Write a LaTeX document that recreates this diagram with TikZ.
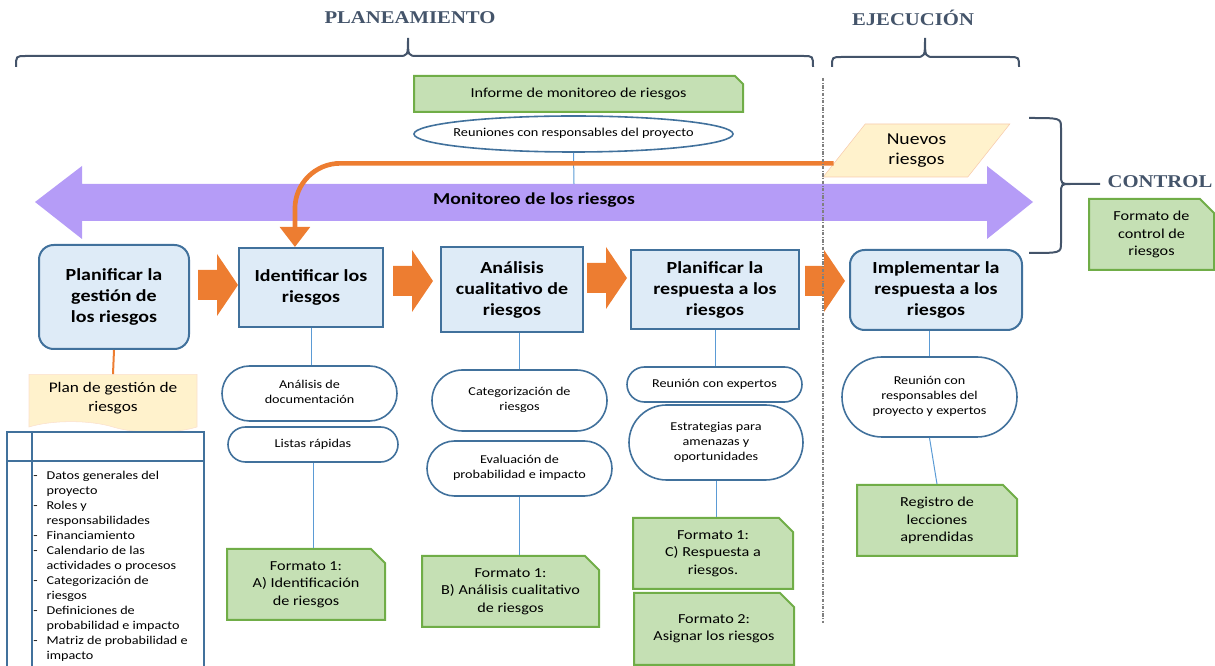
\documentclass[tikz,border=0pt]{standalone}
\usepackage{fontspec}
\setmainfont{Carlito}[FakeStretch=1.18]
\newfontfamily\serifbold{Liberation Serif}[FakeStretch=1.15]
\usetikzlibrary{positioning}
\usetikzlibrary{shapes.misc,shapes.geometric,shapes.symbols}
\usetikzlibrary{arrows.meta,calc}

\definecolor{azulborde}{HTML}{41719C}
\definecolor{azulfondo}{HTML}{DEEBF7}
\definecolor{verdeborde}{HTML}{70AD47}
\definecolor{verdefondo}{HTML}{C5E0B4}
\definecolor{naranja}{HTML}{ED7D31}
\definecolor{lila}{HTML}{B59CF7}
\definecolor{crema}{HTML}{FFF2CC}
\definecolor{durazno}{HTML}{F8CBAD}
\definecolor{pizarra}{HTML}{44546A}
\definecolor{celeste}{HTML}{5B9BD5}

% text that does not widen its shape
\newcommand{\sinancho}[1]{\makebox[0pt]{\begin{tabular}{@{}c@{}}#1\end{tabular}}}

\tikzset{
  sz/.style 2 args={minimum width=#1*0.75pt, minimum height=#2*0.75pt},
  proceso/.style={draw=azulborde, fill=azulfondo, line width=1.5pt, inner sep=0pt,
    align=center, font=\fontsize{12.7}{15.75}\selectfont\bfseries},
  formato/.style={chamfered rectangle, chamfered rectangle corners=north east,
    chamfered rectangle xsep=5.5pt, chamfered rectangle ysep=5pt,
    draw=verdeborde, fill=verdefondo, line width=1.5pt, inner sep=0pt,
    align=center, font=\fontsize{10.3}{13}\selectfont},
  tecnica/.style={rounded rectangle, draw=azulborde, fill=white, line width=1.2pt,
    inner sep=0pt, font=\fontsize{9}{11.25}\selectfont},
  enlace/.style={draw=celeste, line width=0.75pt},
  titulo/.style={text=pizarra, font=\serifbold\fontsize{13.5}{15}\selectfont\bfseries},
  llave/.style={draw=pizarra, line width=1.5pt},
}

\begin{document}
\begin{tikzpicture}[x=0.75pt,y=-0.75pt]
\useasboundingbox (0,0) rectangle (1215,666);

% titles
\node[titulo] (planeamiento) at (410,18) {PLANEAMIENTO};
\node[titulo] (ejecucion) at (913,18) {EJECUCIÓN};
\node[titulo] (control) at (1160,182) {CONTROL};

% braces
\draw[llave] (16,67) .. controls (16,56) .. (26,56) -- (398,56) .. controls (408,56) .. (408,38)
  .. controls (408,56) .. (418,56) -- (803,56) .. controls (813,56) .. (813,67);
\draw[llave] (832,67) .. controls (832,57) .. (842,57) -- (915,57) .. controls (925,57) .. (925,38)
  .. controls (925,57) .. (935,57) -- (1009,57) .. controls (1019,57) .. (1019,67);
\draw[llave] (1029,118) .. controls (1061,118) .. (1061,128) -- (1061,174)
  .. controls (1061,184) .. (1071,184) -- (1100,184)
  (1071,184) .. controls (1061,184) .. (1061,194) -- (1061,243)
  .. controls (1061,253) .. (1029,253);

% monitoring arrow
\fill[lila] (35,202) -- (82,166) -- (82,184) -- (987,184) -- (987,166) -- (1033,202)
  -- (987,239) -- (987,221) -- (82,221) -- (82,239) -- cycle;
\node[font=\fontsize{12.5}{14}\selectfont\bfseries] (monitoreo) at (534,200) {Monitoreo de los riesgos};
\coordinate (borde) at (574,184);

% monitoring inputs
\node[formato, chamfered rectangle xsep=3pt, chamfered rectangle ysep=3pt, sz={329}{36},
  font=\fontsize{10.3}{12}\selectfont] (informe) at (578.5,94) {Informe de monitoreo de riesgos};
\node[ellipse, draw=azulborde, line width=1.2pt, fill=white, inner sep=0pt, sz={319}{36},
  font=\fontsize{9.1}{11}\selectfont] (reuniones) at (573.5,134) {\sinancho{Reuniones con responsables del proyecto}};
\draw[enlace] (reuniones.south) -- (borde);

% new risks
\node[trapezium, trapezium left angle=54, trapezium right angle=126, trapezium stretches=true,
  draw=durazno, fill=crema, inner sep=0pt, sz={187}{53}, align=center,
  font=\fontsize{12.5}{15}\selectfont] (nuevos) at (916.5,150.5) {Nuevos\\riesgos};

% processes
\node[proceso, rounded corners=11pt, sz={150}{104}] (p1) at (114,297) {Planificar la\\gestión de\\los riesgos};
\node[proceso, sz={144}{79}] (p2) at (311,287.5) {Identificar los\\riesgos};
\node[proceso, sz={142}{85}] (p3) at (512,289.5) {Análisis\\cualitativo de\\riesgos};
\node[proceso, sz={168}{79}] (p4) at (715,289.5) {Planificar la\\respuesta a los\\riesgos};
\node[proceso, rounded corners=11pt, sz={172}{80}] (p5) at (936,290) {Implementar la\\respuesta a los\\riesgos};

% block arrows between processes
\foreach \x/\y in {198/285, 393/281, 587/278, 805/281}
  \fill[naranja] (\x,\y-15) -- (\x+19,\y-15) -- (\x+19,\y-31) -- (\x+40,\y)
    -- (\x+19,\y+31) -- (\x+19,\y+15) -- (\x,\y+15) -- cycle;

% feedback of new risks
\draw[naranja, line width=3.5pt, rounded corners=34pt, -{Triangle[width=22pt,length=15pt]}]
  ($(nuevos.bottom left corner)!0.26!(nuevos.top left corner)$) -| ($(p2.north west)!0.39!(p2.north east)$);

% plan
\node[tape, tape bend top=none, tape bend bottom=out and in, tape bend height=8pt,
  draw=durazno!60, fill=crema, inner sep=0pt, sz={168}{58}, align=center,
  font=\fontsize{11}{14}\selectfont] (plan) at (113,398) {Plan de gestión de\\riesgos};
\draw[naranja, line width=1.5pt] (p1.south) -- (plan.north);

% techniques
\node[tecnica, sz={175}{55}] (t21) at (309.5,393.5) {\sinancho{Análisis de\\documentación}};
\node[tecnica, sz={170}{35}] (t22) at (313,444.5) {\sinancho{Listas rápidas}};
\node[tecnica, sz={175}{61}] (t31) at (519.5,400.5) {\sinancho{Categorización de\\riesgos}};
\node[tecnica, sz={185}{55}] (t32) at (519.5,468.5) {\sinancho{Evaluación de\\probabilidad e impacto}};
\node[tecnica, sz={175}{35}] (t41) at (714.5,384.5) {\sinancho{Reunión con expertos}};
\node[tecnica, sz={174}{75}] (t42) at (716,442.5) {\sinancho{Estrategias para\\amenazas y\\oportunidades}};
\node[tecnica, sz={175}{80}] (t51) at (929.5,397) {\sinancho{Reunión con\\responsables del\\proyecto y expertos}};

% formats
\node[formato, sz={158}{71}] (fa) at (306,584.5) {Formato 1:\\A) Identificación\\de riesgos};
\node[formato, sz={177}{71}] (fb) at (510.5,591.5) {Formato 1:\\B) Análisis cualitativo\\de riesgos};
\node[formato, sz={160}{71}] (fc) at (713,553.5) {Formato 1:\\C) Respuesta a\\riesgos.};
\node[formato, sz={160}{72}] (f2) at (714,629) {Formato 2:\\Asignar los riesgos};
\node[formato, sz={160}{71}] (reg) at (937,520.5) {Registro de\\lecciones\\aprendidas};
\node[formato, sz={125}{71}] (ctrl) at (1151.5,234.5) {Formato de\\control de\\riesgos};

% links
\draw[enlace] (p2.south) -- (p2.south |- t21.north);
\draw[enlace] (t22.south) -- (t22.south |- fa.north);
\draw[enlace] (t31.north |- p3.south) -- (t31.north);
\draw[enlace] (t32.south) -- (t32.south |- fb.north);
\draw[enlace] (p4.south) -- (p4.south |- t41.north);
\draw[enlace] (t42.south) -- (t42.south |- fc.north);
\draw[enlace] (t51.north |- p5.south) -- (t51.north);
\draw[enlace] (t51.south) -- (reg.north);

% contents of the plan
\draw[azulborde, line width=1.2pt] (7,670) -- (7,432) -- (204,432) -- (204,670);
\draw[azulborde, line width=1.2pt] (32,432) -- (32,670);
\draw[azulborde, line width=1.2pt] (7,461) -- (204,461);
\node[anchor=north west, inner sep=0pt, font=\fontsize{9}{11.25}\selectfont] (lista) at (33,469)
  {\begin{tabular}{@{}p{10pt}@{}l@{}}
   - & Datos generales del\\ & proyecto\\
   - & Roles y\\ & responsabilidades\\
   - & Financiamiento\\
   - & Calendario de las\\ & actividades o procesos\\
   - & Categorización de\\ & riesgos\\
   - & Definiciones de\\ & probabilidad e impacto\\
   - & Matriz de probabilidad e\\ & impacto
   \end{tabular}};

% planning / execution limit
\draw[gray, line width=0.8pt, dash pattern=on 2.5pt off 1.2pt on 0.6pt off 1.2pt] (823,78) -- (823,623);

\end{tikzpicture}
\end{document}
